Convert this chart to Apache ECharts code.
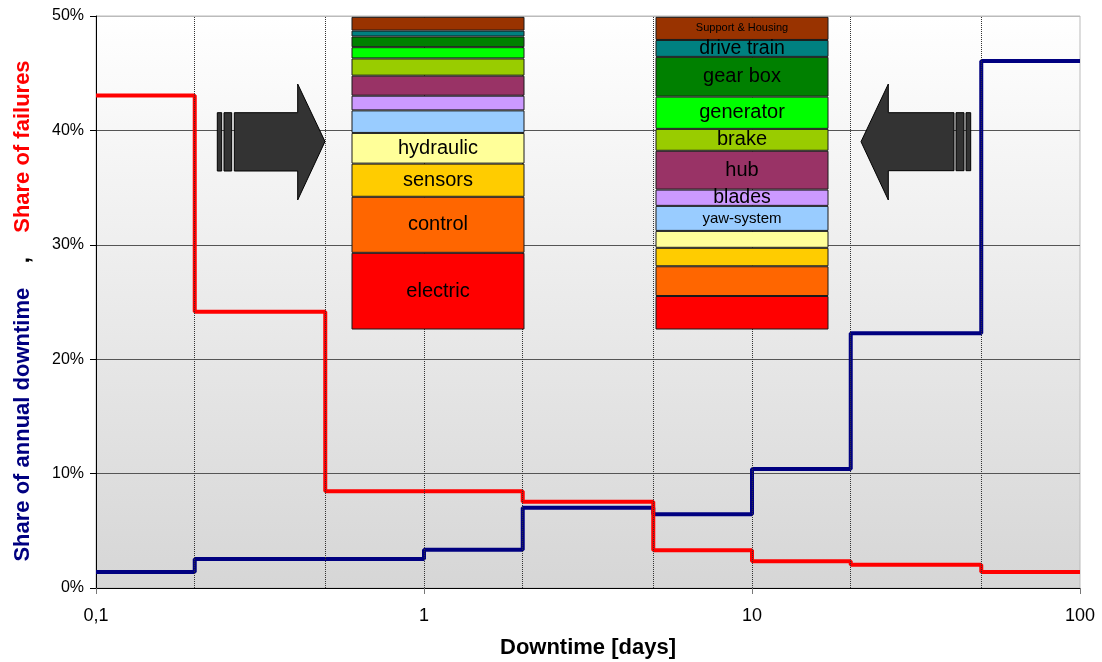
<!DOCTYPE html>
<html>
<head>
<meta charset="utf-8">
<script src="https://cdn.jsdelivr.net/npm/echarts@6/dist/echarts.min.js"></script>
<style>html,body{margin:0;padding:0;background:#fff;}#c{width:1102px;height:662px;}</style>
</head>
<body>
<div id="c"></div>
<script>
// ---- data ----
const edges = [0.1, 0.2, 0.5, 1, 2, 5, 10, 20, 50, 100];
const dividers = [0.2, 0.5, 1, 2, 5, 10, 20, 50];
const failuresShare = [43.05, 24.15, 8.45, 8.45, 7.54, 3.3, 2.33, 2.04, 1.4];
const downtimeShare = [1.4, 2.53, 2.53, 3.35, 7.02, 6.44, 10.4, 22.26, 46.07];
const xTickLabels = ['0,1', '1', '10', '100'];

// stacked composition (bottom -> top)
const components = ['electric', 'control', 'sensors', 'hydraulic', 'yaw-system', 'blades', 'hub', 'brake', 'generator', 'gear box', 'drive train', 'Support & Housing'];
const compColors = ['#ff0000', '#ff6600', '#ffcc00', '#ffff99', '#99ccff', '#cc99ff', '#993366', '#99cc00', '#00ff00', '#008000', '#008080', '#993300'];
const failuresByComponent = [24.5, 17.9, 10.6, 9.8, 7.2, 4.7, 6.4, 5.5, 3.6, 3.4, 1.9, 4.4];
const downtimeByComponent = [10.7, 9.5, 5.9, 5.4, 8.0, 5.2, 12.4, 7.0, 10.3, 12.7, 5.4, 7.4];
const leftLabelSize = [20, 20, 20, 20, 0, 0, 0, 0, 0, 0, 0, 0];
const rightLabelSize = [0, 0, 0, 0, 15, 19.5, 20, 20, 20, 20, 19.5, 11];

const FONT = 'Arial, "Liberation Sans", sans-serif';

function stepData(vals) {
  const d = vals.map((v, i) => [edges[i], v]);
  d.push([edges[edges.length - 1], vals[vals.length - 1]]);
  return d;
}

const chart = echarts.init(document.getElementById('c'), null, {renderer: 'canvas'});

const barSeries = components.map((name, i) => ({
  type: 'bar',
  name: name,
  xAxisIndex: 1,
  yAxisIndex: 1,
  stack: 'comp',
  barWidth: 173,
  z: 5,
  silent: true,
  itemStyle: {color: compColors[i], borderColor: '#1a1a1a', borderWidth: 1},
  data: [
    {value: failuresByComponent[i], label: {show: leftLabelSize[i] > 0, fontSize: leftLabelSize[i] || 12}},
    {value: downtimeByComponent[i], label: {show: rightLabelSize[i] > 0, fontSize: rightLabelSize[i] || 12}}
  ],
  label: {position: 'inside', color: '#000', fontFamily: FONT, formatter: '{a}'}
}));

const option = {
  animation: false,
  backgroundColor: '#ffffff',
  grid: [
    {left: 96, right: 22, top: 16, bottom: 74, show: true, borderColor: '#bbbbbb', borderWidth: 1,
     outerBoundsMode: 'none', containLabel: false,
     backgroundColor: new echarts.graphic.LinearGradient(0, 0, 0, 1, [
       {offset: 0, color: '#ffffff'}, {offset: 1, color: '#d6d6d6'}])},
    {left: 286, width: 608, top: 16.5, bottom: 332.5, outerBoundsMode: 'none'}
  ],
  xAxis: [
    {type: 'log', logBase: 10, min: 0.1, max: 100, gridIndex: 0,
     name: 'Downtime [days]', nameLocation: 'middle', nameGap: 49,
     nameTextStyle: {fontFamily: FONT, fontSize: 22, fontWeight: 'bold', color: '#000'},
     axisLine: {show: true, lineStyle: {color: '#000', width: 1}},
     axisTick: {show: true, length: 6, lineStyle: {color: '#777'}},
     minorTick: {show: false},
     splitLine: {show: false},
     axisLabel: {margin: 19, fontFamily: FONT, fontSize: 18, color: '#000',
       formatter: function (v) {
         const idx = Math.round(Math.log10(v) + 1);
         return xTickLabels[idx] !== undefined ? xTickLabels[idx] : '';
       }}},
    {type: 'category', gridIndex: 1, data: ['failures', 'downtime'], show: false}
  ],
  yAxis: [
    {type: 'value', min: 0, max: 50, interval: 10, gridIndex: 0,
     name: '{a|Share of annual downtime}{b|    ,    }{c|Share of failures}',
     nameLocation: 'middle', nameRotate: 90, nameGap: 62,
     nameTextStyle: {padding: [0, 18, 0, 0], rich: {
       a: {color: '#000080', fontWeight: 'bold', fontSize: 22, fontFamily: FONT},
       b: {color: '#000000', fontWeight: 'bold', fontSize: 22, fontFamily: FONT},
       c: {color: '#ff0000', fontWeight: 'bold', fontSize: 22, fontFamily: FONT}
     }},
     axisLine: {show: true, lineStyle: {color: '#000', width: 1}},
     axisTick: {show: true, length: 6, lineStyle: {color: '#000'}},
     splitLine: {show: true, lineStyle: {color: ['#555', '#555', '#555', '#555', '#555', '#bbbbbb'], width: 1}},
     axisLabel: {margin: 12, fontFamily: FONT, fontSize: 16, color: '#000', formatter: '{value}%'}},
    {type: 'value', gridIndex: 1, min: 0, max: 100, show: false}
  ],
  series: [
    {type: 'line', name: 'Share of annual downtime', xAxisIndex: 0, yAxisIndex: 0,
     step: 'end', symbol: 'none', z: 3,
     lineStyle: {color: '#000080', width: 4},
     data: stepData(downtimeShare),
     markLine: {silent: true, symbol: 'none', label: {show: false},
       lineStyle: {color: '#333', type: 'dotted', width: 1},
       data: dividers.map(v => ({xAxis: v}))}},
    {type: 'line', name: 'Share of failures', xAxisIndex: 0, yAxisIndex: 0,
     step: 'end', symbol: 'none', z: 4,
     lineStyle: {color: '#ff0000', width: 4},
     data: stepData(failuresShare)}
  ].concat(barSeries),
  graphic: [
    {type: 'polygon', z: 20, shape: {points: [[234.3,112.7],[297.7,112.7],[297.7,84],[325,141.5],[297.7,200],[297.7,171],[234.3,171]]},
     style: {fill: '#333333', stroke: '#000', lineWidth: 1}},
    {type: 'rect', z: 20, shape: {x: 217.3, y: 112.7, width: 4.4, height: 58.3}, style: {fill: '#333333', stroke: '#000', lineWidth: 1}},
    {type: 'rect', z: 20, shape: {x: 224, y: 112.7, width: 7.7, height: 58.3}, style: {fill: '#333333', stroke: '#000', lineWidth: 1}},
    {type: 'polygon', z: 20, shape: {points: [[954,112.7],[888.3,112.7],[888.3,84],[861,141.7],[888.3,200],[888.3,170.7],[954,170.7]]},
     style: {fill: '#333333', stroke: '#000', lineWidth: 1}},
    {type: 'rect', z: 20, shape: {x: 956, y: 112.7, width: 8, height: 58}, style: {fill: '#333333', stroke: '#000', lineWidth: 1}},
    {type: 'rect', z: 20, shape: {x: 966, y: 112.7, width: 4.7, height: 58}, style: {fill: '#333333', stroke: '#000', lineWidth: 1}}
  ]
};
chart.setOption(option);
</script>
</body>
</html>
